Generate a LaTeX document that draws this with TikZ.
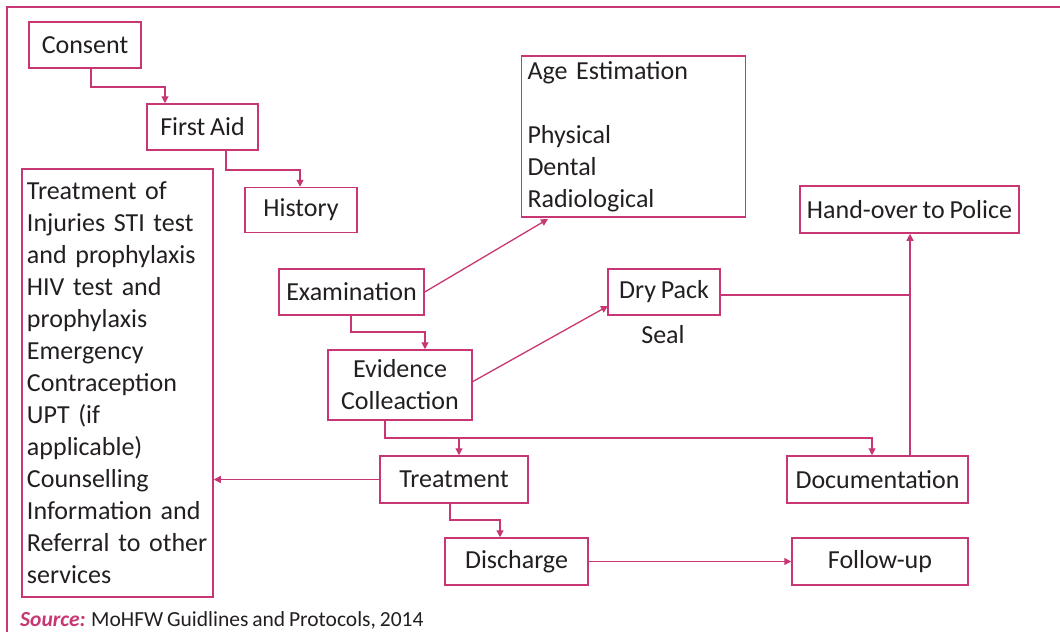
\documentclass[tikz,border=0pt]{standalone}
\usepackage{fontspec}
\setmainfont{Carlito}[WordSpace=0.8]
\usetikzlibrary{arrows.meta}
\definecolor{mag}{RGB}{200,55,115}
\definecolor{txt}{RGB}{35,31,32}
\begin{document}
\begin{tikzpicture}[x=1pt,y=-1pt,
  box/.style={draw=mag,line width=1.5pt,inner sep=0pt,text=txt,align=center,
    font=\fontsize{26}{32}\selectfont},
  conn/.style={draw=mag,line width=1.3pt},
  arr/.style={conn,-{Triangle[length=7pt,width=7pt]}}]
\useasboundingbox (0,0) rectangle (1060,632);
\draw[mag,line width=1.7pt] (7,632) -- (7,7) -- (1060,7);

\node[box,minimum width=112,minimum height=46] (consent) at (85,45) {Consent};
\node[box,minimum width=111,minimum height=46] (firstaid) at (202.5,127) {First Aid};
\node[box,minimum width=112,minimum height=45] (history) at (301,210) {History};
\node[box,align=left,text width=181,inner xsep=5pt,minimum height=428] (treatlist) at (117.5,383)
 {Treatment of\\Injuries STI test\\and prophylaxis\\HIV test and\\prophylaxis\\Emergency\\Contraception\\UPT (if\\applicable)\\Counselling\\Information and\\Referral to other\\services};
\node[box,align=left,text width=212,inner xsep=6pt,minimum height=161] (age) at (633.5,136.5)
 {Age Estimation\\[32pt]Physical\\Dental\\Radiological};
\node[box,minimum width=219,minimum height=47] (police) at (909.5,209.5) {Hand-over to Police};
\node[box,minimum width=145,minimum height=46] (exam) at (351.5,292) {Examination};
\node[box,minimum width=112,minimum height=46] (drypack) at (664,292) {Dry Pack};
\node[text=txt,font=\fontsize{26}{32}\selectfont,inner sep=0pt] (seal) at (663,335) {Seal};
\node[box,minimum width=144,minimum height=70] (evidence) at (400,385) {Evidence\\Colleaction};
\node[box,minimum width=148,minimum height=47] (treatment) at (454,479.5) {Treatment};
\node[box,minimum width=181,minimum height=47] (doc) at (877.5,479.5) {Documentation};
\node[box,minimum width=143,minimum height=47] (discharge) at (516.5,561.5) {Discharge};
\node[box,minimum width=176,minimum height=47] (followup) at (880,561.5) {Follow-up};

\node[anchor=base west,inner sep=0pt,text=txt,font=\fontsize{21.5}{25}\selectfont] (source) at (20,626)
 {\textcolor{mag}{\textbf{\textit{Source:}}} MoHFW Guidlines and Protocols, 2014};

% connectors
\coordinate (c1) at (91,87); \coordinate (c1e) at (165,87);
\draw[arr] (consent.south -| c1) -- (c1) -- (c1e) -- (firstaid.north -| c1e);
\coordinate (c2) at (226,170); \coordinate (c2e) at (300,170);
\draw[arr] (firstaid.south -| c2) -- (c2) -- (c2e) -- (history.north -| c2e);
\coordinate (agein) at (548,219);
\draw[arr] (exam.east) -- (agein);
\coordinate (c4) at (351,332); \coordinate (c4e) at (425,332);
\draw[arr] (exam.south -| c4) -- (c4) -- (c4e) -- (evidence.north -| c4e);
\coordinate (evout) at (472,382); \coordinate (dpin) at (608,306);
\draw[arr] (evout) -- (dpin);
\coordinate (c6) at (385,438); \coordinate (c6e) at (872,438); \coordinate (c6b) at (459,438);
\draw[arr] (evidence.south -| c6) -- (c6) -- (c6e) -- (doc.north -| c6e);
\draw[arr] (c6b) -- (treatment.north -| c6b);
\draw[arr] (treatment.west) -- (treatlist.east |- treatment.west);
\coordinate (c8) at (450,520); \coordinate (c8e) at (500,520);
\draw[arr] (treatment.south -| c8) -- (c8) -- (c8e) -- (discharge.north -| c8e);
\draw[arr] (discharge.east) -- (followup.west |- discharge.east);
\coordinate (j) at (910,295);
\draw[conn] (drypack.east |- j) -- (j);
\draw[arr] (doc.north -| j) -- (police.south -| j);
\end{tikzpicture}
\end{document}
